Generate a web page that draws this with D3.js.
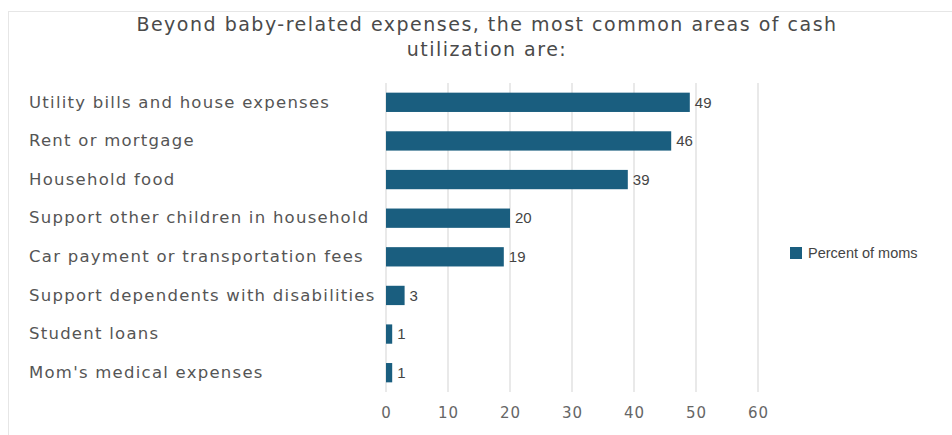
<!DOCTYPE html>
<html>
<head>
<meta charset="utf-8">
<script src="https://cdn.jsdelivr.net/npm/d3@7"></script>
<style>
  body { margin: 0; background: #fff; }
  svg { display: block; }
</style>
</head>
<body>
<div id="chart"></div>
<script>
const categories = [
  'Utility bills and house expenses',
  'Rent or mortgage',
  'Household food',
  'Support other children in household',
  'Car payment or transportation fees',
  'Support dependents with disabilities',
  'Student loans',
  "Mom's medical expenses"
];
const values = [49, 46, 39, 20, 19, 3, 1, 1];
const xTicks = [0, 10, 20, 30, 40, 50, 60];
const seriesName = 'Percent of moms';
const titleLines = ['Beyond baby-related expenses, the most common areas of cash', 'utilization are:'];

const W = 952, H = 435;
const margin = { top: 83, left: 386, right: 194, bottom: 43 };
const barColor = '#1a5e7f';
const wideFont = 'DejaVu Sans, sans-serif';

const svg = d3.select('#chart').append('svg')
  .attr('width', W).attr('height', H);

// outer frame
svg.append('rect')
  .attr('x', 8.5).attr('y', 11.5)
  .attr('width', W + 10).attr('height', H + 10)
  .attr('fill', 'none').attr('stroke', '#e6e6e6');

svg.append('text')
  .attr('x', 487).attr('y', 31)
  .attr('text-anchor', 'middle')
  .attr('font-family', wideFont)
  .attr('font-size', 19)
  .attr('letter-spacing', 1.5)
  .attr('fill', '#4a4a4a')
  .selectAll('tspan').data(titleLines).join('tspan')
  .attr('x', 487)
  .attr('dy', (d, i) => i === 0 ? 0 : 24.5)
  .text(d => d);

const x = d3.scaleLinear().domain([0, 60]).range([margin.left, W - margin.right]);
const y = d3.scaleBand().domain(categories)
  .range([margin.top, H - margin.bottom]).paddingInner(0.5).paddingOuter(0.25);

// gridlines
svg.append('g')
  .selectAll('line').data(xTicks).join('line')
  .attr('x1', d => x(d)).attr('x2', d => x(d))
  .attr('y1', margin.top).attr('y2', H - margin.bottom)
  .attr('stroke', '#e2e2e2').attr('stroke-width', 1.5);

// x axis
const xAxis = d3.axisBottom(x).tickValues(xTicks).tickSize(0).tickPadding(15);
const gx = svg.append('g')
  .attr('transform', `translate(0, ${H - margin.bottom})`)
  .call(xAxis);
gx.select('.domain').remove();
gx.selectAll('text')
  .attr('font-family', wideFont)
  .attr('font-size', 15)
  .attr('letter-spacing', 1)
  .attr('fill', '#666');

// y axis labels
const yAxis = d3.axisLeft(y).tickSize(0).tickPadding(0);
const gy = svg.append('g')
  .attr('transform', `translate(29, 0)`)
  .call(yAxis);
gy.select('.domain').remove();
gy.selectAll('text')
  .attr('text-anchor', 'start')
  .attr('font-family', wideFont)
  .attr('font-size', 16.5)
  .attr('letter-spacing', 1.25)
  .attr('fill', '#555');

const data = categories.map((c, i) => ({ c, v: values[i] }));

svg.append('g')
  .selectAll('rect').data(data).join('rect')
  .attr('x', x(0))
  .attr('y', d => y(d.c))
  .attr('width', d => x(d.v) - x(0))
  .attr('height', y.bandwidth())
  .attr('fill', barColor);

svg.append('g')
  .selectAll('text').data(data).join('text')
  .attr('x', d => x(d.v) + 5)
  .attr('y', d => y(d.c) + y.bandwidth() / 2)
  .attr('dy', '0.35em')
  .attr('font-family', 'Liberation Sans, Arial, sans-serif')
  .attr('font-size', 15)
  .attr('fill', '#444')
  .text(d => d.v);

// legend
const lg = svg.append('g').attr('transform', 'translate(790, 247)');
lg.append('rect').attr('width', 12).attr('height', 12).attr('fill', barColor);
lg.append('text')
  .attr('x', 18).attr('y', 6).attr('dy', '0.35em')
  .attr('font-family', 'Liberation Sans, Arial, sans-serif')
  .attr('font-size', 14.5)
  .attr('fill', '#444')
  .text(seriesName);
</script>
</body>
</html>
